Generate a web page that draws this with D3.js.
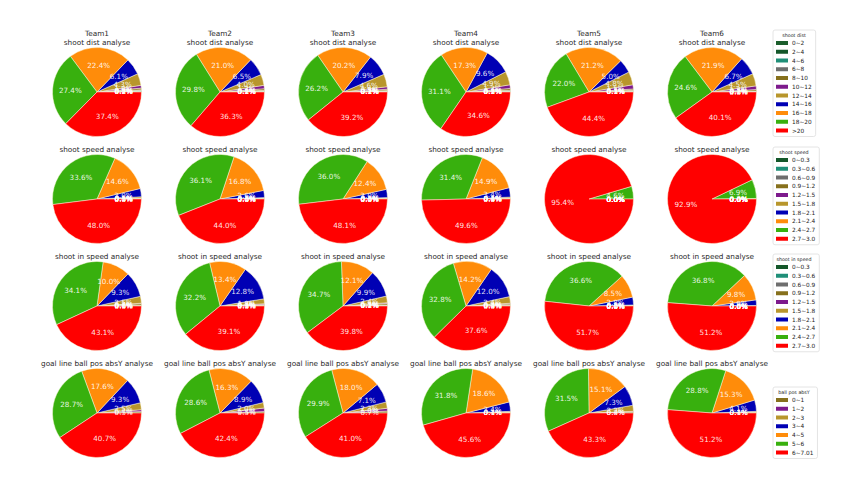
<!DOCTYPE html>
<html><head><meta charset="utf-8">
<script src="https://cdn.jsdelivr.net/npm/d3@7"></script>
<style>body{margin:0;background:#fff}svg{display:block}text{font-family:"DejaVu Sans",sans-serif}</style>
</head><body><svg id="c" width="860" height="483"></svg>
<script>
const teams = ["Team1","Team2","Team3","Team4","Team5","Team6"];
const rowTitles = ["shoot dist analyse","shoot speed analyse","shoot in speed analyse","goal line ball pos absY analyse"];
const legendTitles = ["shoot dist","shoot speed","shoot in speed","ball pos absY"];

const distCats = ["0~2","2~4","4~6","6~8","8~10","10~12","12~14","14~16","16~18","18~20",">20"];
const speedCats = ["0~0.3","0.3~0.6","0.6~0.9","0.9~1.2","1.2~1.5","1.5~1.8","1.8~2.1","2.1~2.4","2.4~2.7","2.7~3.0"];
const inSpeedCats = ["0~0.3","0.3~0.6","0.6~0.9","0.9~1.2","1.2~1.5","1.5~1.8","1.8~2.1","2.1~2.4","2.4~2.7","2.7~3.0"];
const absYCats = ["0~1","1~2","2~3","3~4","4~5","5~6","6~7.01"];

const distColors = ["#1b5e2c","#14572a","#1f8f78","#6e6e6e","#86701c","#7d1a8c","#b8962c","#0000b4","#ff8c0a","#38b00e","#ff0000"];
const speedColors = ["#14572a","#1f8f78","#6e6e6e","#86701c","#7d1a8c","#b8962c","#0000b4","#ff8c0a","#38b00e","#ff0000"];
const absYColors = ["#86701c","#7d1a8c","#b8962c","#0000b4","#ff8c0a","#38b00e","#ff0000"];

// percentages, one array per team
const distValues = [
  [0.1,0.2,0.2,0.3,0.6,1.0,4.3,6.1,22.4,27.4,37.4],
  [0.1,0.2,0.1,0.2,0.6,1.2,4.0,6.5,21.0,29.8,36.3],
  [0.1,0.1,0.1,0.2,0.5,0.9,4.6,7.9,20.2,26.2,39.2],
  [0.1,0.1,0.2,0.3,0.6,1.3,4.9,9.6,17.3,31.1,34.6],
  [0.1,0.1,0.1,0.3,0.5,1.5,4.8,5.0,21.2,22.0,44.4],
  [0.0,0.1,0.1,0.2,0.5,1.3,4.5,6.7,21.9,24.6,40.1]
];
const speedValues = [
  [0.0,0.0,0.1,0.1,0.1,0.5,3.0,14.6,33.6,48.0],
  [0.0,0.0,0.0,0.1,0.1,0.3,2.6,16.8,36.1,44.0],
  [0.0,0.0,0.0,0.1,0.1,0.3,3.0,12.4,36.0,48.1],
  [0.0,0.0,0.1,0.1,0.1,0.4,3.4,14.9,31.4,49.6],
  [0.0,0.0,0.0,0.0,0.0,0.0,0.0,0.0,4.6,95.4],
  [0.0,0.0,0.0,0.0,0.0,0.0,0.0,0.2,6.9,92.9]
];
const inSpeedValues = [
  [0.0,0.1,0.1,0.6,0.2,2.5,9.3,10.0,34.1,43.1],
  [0.0,0.1,0.1,0.3,0.3,1.8,12.8,13.4,32.2,39.1],
  [0.1,0.1,0.2,0.5,0.3,2.4,9.9,12.1,34.7,39.8],
  [0.0,0.1,0.2,0.4,0.3,2.4,12.0,14.2,32.8,37.6],
  [0.0,0.0,0.0,0.1,0.1,0.2,2.8,8.5,36.6,51.7],
  [0.0,0.0,0.0,0.0,0.0,0.2,2.0,9.8,36.8,51.2]
];
const absYValues = [
  [0.5,0.7,2.5,9.3,17.6,28.7,40.7],
  [0.5,1.3,2.0,8.9,16.3,28.6,42.4],
  [0.7,1.0,2.3,7.1,18.0,29.9,41.0],
  [0.1,0.1,0.4,3.4,18.6,31.8,45.6],
  [0.4,0.2,2.2,7.3,15.1,31.5,43.3],
  [0.1,0.1,0.4,4.1,15.3,28.8,51.2]
];

const rows = [
  {cats: distCats, colors: distColors, values: distValues},
  {cats: speedCats, colors: speedColors, values: speedValues},
  {cats: inSpeedCats, colors: speedColors, values: inSpeedValues},
  {cats: absYCats, colors: absYColors, values: absYValues}
];

const svg = d3.select("#c");
const x = d3.scalePoint().domain(teams).range([97, 712]);
const y = d3.scalePoint().domain(rowTitles).range([92, 413]);
const R = 44.5;

const pie = d3.pie().sort(null).value(d => d.v).startAngle(Math.PI/2).endAngle(Math.PI/2 - 2*Math.PI);
const arc = d3.arc().innerRadius(0).outerRadius(R);
const labelArc = d3.arc().innerRadius(R*0.6).outerRadius(R*0.6);

rows.forEach((row, ri) => {
  const cy = y(rowTitles[ri]);
  teams.forEach((t, ti) => {
    const cx = x(t);
    const g = svg.append("g").attr("transform", `translate(${cx},${cy})`);
    const data = row.cats.map((c, i) => ({c, v: row.values[ti][i], col: row.colors[i]}));
    const arcs = pie(data);
    g.selectAll("path").data(arcs).join("path")
      .attr("d", arc).attr("fill", d => d.data.col)
      .attr("stroke", "#fffbe0").attr("stroke-width", 0.6).attr("stroke-opacity", 0.8);
    g.selectAll("text.lbl").data(arcs).join("text").attr("class","lbl")
      .attr("transform", d => `translate(${labelArc.centroid(d)})`)
      .attr("text-anchor","middle").attr("dominant-baseline","central")
      .attr("fill","#ffffff").attr("fill-opacity",0.9).attr("font-size",7.2)
      .text(d => d.data.v.toFixed(1) + "%");
    if (ri === 0) {
      svg.append("text").attr("x", cx).attr("y", cy - R - 14).attr("text-anchor","middle")
        .attr("dominant-baseline","central").attr("font-size",7.3).attr("fill","#2a2a2a").text(t);
    }
    svg.append("text").attr("x", cx).attr("y", cy - R - 5.5).attr("text-anchor","middle")
      .attr("dominant-baseline","central").attr("font-size",7.3).attr("fill","#2a2a2a").text(rowTitles[ri]);
  });
});

// legends
const legTop = [30, 147, 254, 387];
rows.forEach((row, ri) => {
  const g = svg.append("g");
  const top = legTop[ri];
  const box = g.append("rect").attr("x",773).attr("y",top).attr("rx",2).attr("ry",2)
    .attr("fill","#fff").attr("stroke","#dddddd").attr("stroke-width",0.8);
  g.append("text").attr("x",794).attr("y",top+5).attr("text-anchor","middle")
    .attr("dominant-baseline","central").attr("font-size",4.8).attr("fill","#222").text(legendTitles[ri]);
  const ly = d3.scaleLinear().domain([0, row.cats.length-1]).range([top+13, top+13+8.75*(row.cats.length-1)]);
  let maxW = 0;
  row.cats.forEach((c, i) => {
    g.append("rect").attr("x",776).attr("y",ly(i)-2).attr("width",12).attr("height",4).attr("fill",row.colors[i]);
    const tx = g.append("text").attr("x",792).attr("y",ly(i)).attr("dominant-baseline","central")
      .attr("font-size",5.8).attr("fill","#222").text(c);
    maxW = Math.max(maxW, tx.node().getComputedTextLength());
  });
  box.attr("width", Math.max(792 + maxW + 4 - 773, 42)).attr("height", ly(row.cats.length-1) + 6 - top);
});
</script></body></html>
